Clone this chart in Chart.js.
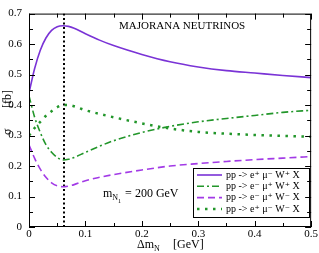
<!DOCTYPE html>
<html>
<head>
<meta charset="utf-8">
<script src="https://cdn.jsdelivr.net/npm/chart.js@4.4.0/dist/chart.umd.min.js"></script>
<style>
  html, body { margin: 0; padding: 0; background: #fff; }
  #wrap { width: 319px; height: 253px; position: relative; }
</style>
</head>
<body>
<div id="wrap"><canvas id="c"></canvas></div>
<script>
// Δm_N values (GeV)
const dm = [0, 0.01, 0.02, 0.03, 0.04, 0.05, 0.06, 0.07, 0.08, 0.1, 0.125, 0.15, 0.2, 0.25, 0.3, 0.35, 0.4, 0.45, 0.5];
// cross sections (fb)
const epMumWp = [0.44, 0.52, 0.58, 0.62, 0.645, 0.657, 0.66, 0.658, 0.652, 0.634, 0.613, 0.595, 0.566, 0.542, 0.525, 0.513, 0.505, 0.497, 0.49];
const emMupWp = [0.43, 0.36, 0.31, 0.27, 0.245, 0.228, 0.22, 0.222, 0.228, 0.245, 0.265, 0.283, 0.31, 0.33, 0.345, 0.356, 0.366, 0.376, 0.383];
const emMupWm = [0.27, 0.225, 0.19, 0.163, 0.145, 0.135, 0.132, 0.134, 0.139, 0.152, 0.163, 0.172, 0.187, 0.2, 0.208, 0.215, 0.221, 0.226, 0.231];
const epMumWm = [0.3, 0.325, 0.345, 0.365, 0.38, 0.393, 0.4, 0.4, 0.396, 0.383, 0.371, 0.36, 0.34, 0.323, 0.312, 0.306, 0.302, 0.299, 0.296];
const peakX = 0.062;
const labels = ['pp -> e\u207A \u03BC\u207B W\u207A X', 'pp -> e\u207B \u03BC\u207A W\u207A X', 'pp -> e\u207B \u03BC\u207A W\u207B X', 'pp -> e\u207A \u03BC\u207B W\u207B X'];

const serif = '"Liberation Serif", "DejaVu Serif", serif';
const pts = arr => arr.map((v, i) => ({x: dm[i], y: v}));

function line(label, data, color, dash, width) {
  return {label, data: pts(data), borderColor: color, borderDash: dash, borderWidth: width,
          pointRadius: 0, fill: false, cubicInterpolationMode: 'monotone'};
}

const datasets = [
  line(labels[0], epMumWp, '#7a33d6', [], 1.6),
  line(labels[1], emMupWp, '#22962a', [7, 3, 2, 3], 1.6),
  line(labels[2], emMupWm, '#a23ae6', [7, 4], 1.6),
  line(labels[3], epMumWm, '#22962a', [2.5, 5.5], 2.5),
  {label: 'peak', data: [{x: peakX, y: 0}, {x: peakX, y: 0.7}], borderColor: '#000', borderDash: [2, 2.5],
   borderWidth: 2, pointRadius: 0, fill: false}
];

// frame, inward ticks, texts and legend
const decor = {
  id: 'decor',
  afterDatasetsDraw(chart) {
    const ctx = chart.ctx, a = chart.chartArea;
    const xs = chart.scales.x, ys = chart.scales.y;
    ctx.save();
    ctx.strokeStyle = '#000';
    ctx.lineWidth = 1;
    ctx.strokeRect(a.left + 0.5, a.top + 0.5, a.right - a.left - 1, a.bottom - a.top - 1);
    ctx.beginPath();
    for (let k = 0; k <= 10; k++) {
      const px = Math.round(xs.getPixelForValue(k * 0.05)) + 0.5;
      const len = k % 2 ? 4 : 6;
      ctx.moveTo(px, a.bottom); ctx.lineTo(px, a.bottom - len);
      ctx.moveTo(px, a.top); ctx.lineTo(px, a.top + len);
    }
    for (let k = 0; k <= 14; k++) {
      const py = Math.round(ys.getPixelForValue(k * 0.05)) + 0.5;
      const len = k % 2 ? 4 : 6;
      ctx.moveTo(a.left, py); ctx.lineTo(a.left + len, py);
      ctx.moveTo(a.right, py); ctx.lineTo(a.right - len, py);
    }
    ctx.stroke();

    ctx.fillStyle = '#000';
    ctx.textBaseline = 'middle';
    ctx.textAlign = 'left';
    ctx.font = '11px ' + serif;
    ctx.fillText('MAJORANA NEUTRINOS', 119, 26);

    // m_{N_1} = 200 GeV
    let x = 103;
    ctx.font = '12px ' + serif;
    ctx.fillText('m', x, 194); x += ctx.measureText('m').width;
    ctx.font = '8px ' + serif;
    ctx.fillText('N', x, 198); x += ctx.measureText('N').width;
    ctx.font = '6px ' + serif;
    ctx.fillText('1', x, 201); x += ctx.measureText('1').width + 1;
    ctx.font = '12px ' + serif;
    ctx.fillText(' = 200 GeV', x, 194);

    // x title
    x = 137;
    ctx.font = '12px ' + serif;
    ctx.fillText('\u0394m', x, 245); x += ctx.measureText('\u0394m').width;
    ctx.font = '8px ' + serif;
    ctx.fillText('N', x, 249);
    ctx.font = '12px ' + serif;
    ctx.fillText('[GeV]', 173, 245);

    // y title
    ctx.save();
    ctx.translate(8, 115);
    ctx.rotate(-Math.PI / 2);
    ctx.textAlign = 'left';
    ctx.fillText('\u03C3', -20, 0);
    ctx.fillText('[fb]', 7, 0);
    ctx.restore();

    // legend
    ctx.strokeStyle = '#000';
    ctx.lineWidth = 1;
    ctx.strokeRect(193.5, 168.5, 116, 49);
    ctx.font = '10px ' + serif;
    for (let i = 0; i < 4; i++) {
      const d = chart.data.datasets[i];
      const y = 175 + i * 11.3;
      ctx.beginPath();
      ctx.strokeStyle = d.borderColor;
      ctx.lineWidth = d.borderWidth;
      ctx.setLineDash(d.borderDash);
      ctx.moveTo(197, y); ctx.lineTo(222, y);
      ctx.stroke();
      ctx.setLineDash([]);
      ctx.fillStyle = '#000';
      ctx.fillText(d.label, 226, y);
    }
    ctx.restore();
  }
};

const fmt = v => (Math.abs(v) < 1e-9 ? '0' : (Math.round(v * 10) / 10).toFixed(1));

new Chart(document.getElementById('c'), {
  type: 'line',
  data: {datasets},
  options: {
    responsive: true, maintainAspectRatio: false, animation: false,
    layout: {padding: {top: 4, right: 7, left: 0, bottom: 0}},
    plugins: {legend: {display: false}, tooltip: {enabled: false}},
    scales: {
      x: {type: 'linear', min: 0, max: 0.5,
          grid: {display: false, drawTicks: false}, border: {display: false},
          ticks: {stepSize: 0.1, callback: fmt, color: '#000', padding: 1, maxRotation: 0,
                  font: {family: serif, size: 11}},
          afterFit: s => { s.height = 26; }},
      y: {min: 0, max: 0.7,
          grid: {display: false, drawTicks: false}, border: {display: false},
          ticks: {stepSize: 0.1, callback: fmt, color: '#000', padding: 7,
                  font: {family: serif, size: 11}},
          afterFit: s => { s.width = 29; }}
    }
  },
  plugins: [decor]
});
</script>
</body>
</html>
